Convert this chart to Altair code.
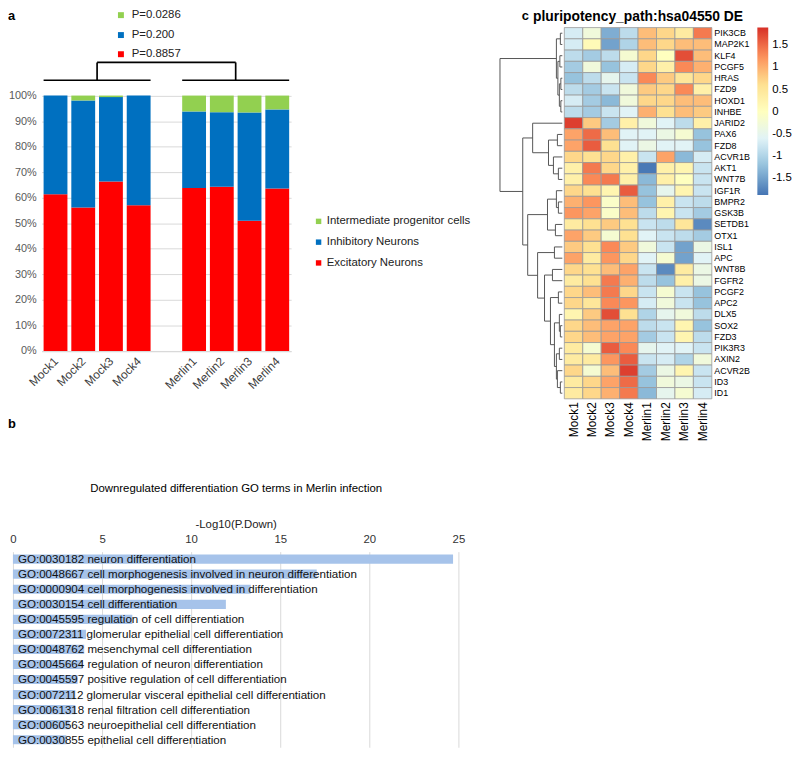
import altair as alt
import pandas as pd

FONT = "Liberation Sans"

# ---------------- panel a : cell type proportions ----------------
samples_a = ["Mock1", "Mock2", "Mock3", "Mock4", "Merlin1", "Merlin2", "Merlin3", "Merlin4"]
slots_a = [1, 2, 3, 4, 6, 7, 8, 9]
groups_a = [[1, 2, 3, 4], [6, 7, 8, 9]]
excitatory = [61.4, 56.2, 66.4, 57.1, 63.8, 64.3, 51.0, 63.6]
inhibitory = [38.6, 41.9, 33.0, 42.9, 30.0, 29.2, 42.4, 31.0]
progenitor = [0.0, 1.9, 0.6, 0.0, 6.2, 6.5, 6.6, 5.4]
cell_types = ["Intermediate progenitor cells", "Inhibitory Neurons", "Excitatory Neurons"]
cell_colors = ["#92D050", "#0070C0", "#FF0000"]
p_labels = ["P=0.0286", "P=0.200", "P=0.8857"]
p_colors = ["#92D050", "#0070C0", "#FF0000"]
p_level = [131.5, 123.7, 116.2]
bracket_levels = [106.0, 113.0]
pct_ticks = list(range(0, 101, 10))

# ---------------- panel b : GO terms ----------------
go_terms = [
    "GO:0030182 neuron differentiation",
    "GO:0048667 cell morphogenesis involved in neuron differentiation",
    "GO:0000904 cell morphogenesis involved in differentiation",
    "GO:0030154 cell differentiation",
    "GO:0045595 regulation of cell differentiation",
    "GO:0072311 glomerular epithelial cell differentiation",
    "GO:0048762 mesenchymal cell differentiation",
    "GO:0045664 regulation of neuron differentiation",
    "GO:0045597 positive regulation of cell differentiation",
    "GO:0072112 glomerular visceral epithelial cell differentiation",
    "GO:0061318 renal filtration cell differentiation",
    "GO:0060563 neuroepithelial cell differentiation",
    "GO:0030855 epithelial cell differentiation",
]
go_values = [24.7, 17.05, 13.35, 11.95, 6.7, 4.1, 4.0, 3.9, 3.63, 3.5, 3.5, 3.17, 3.0]
go_ticks = [0, 5, 10, 15, 20, 25]

# ---------------- panel c : heatmap ----------------
samples_c = ["Mock1", "Mock2", "Mock3", "Mock4", "Merlin1", "Merlin2", "Merlin3", "Merlin4"]
genes = ["PIK3CB", "MAP2K1", "KLF4", "PCGF5", "HRAS", "FZD9", "HOXD1", "INHBE", "JARID2",
         "PAX6", "FZD8", "ACVR1B", "AKT1", "WNT7B", "IGF1R", "BMPR2", "GSK3B", "SETDB1",
         "OTX1", "ISL1", "APC", "WNT8B", "FGFR2", "PCGF2", "APC2", "DLX5", "SOX2", "FZD3",
         "PIK3R3", "AXIN2", "ACVR2B", "ID3", "ID1"]
heat_values = [
    [-0.7, -0.3, -1.4, -0.9, 0.9, 0.7, 0.4, 1.4],
    [-0.7, 0.1, -1.5, -1.0, 0.9, 0.7, 0.9, 0.9],
    [-0.9, -1.1, -0.9, -0.2, 0.7, 0.0, 1.7, 0.9],
    [-1.1, -0.3, -1.2, -0.7, 0.7, 0.3, 1.3, 1.0],
    [-1.2, -0.9, -0.5, -0.8, 1.3, 0.8, 0.5, 0.7],
    [-0.9, -1.1, -0.8, -0.3, 0.8, 0.7, 1.3, 0.3],
    [-0.7, -1.1, -1.3, -0.3, 0.7, 0.7, 0.9, 0.9],
    [-0.9, -1.1, -0.8, -0.6, 1.0, 0.6, 0.9, 0.8],
    [1.8, 0.8, -1.1, 0.3, -0.3, -0.6, -0.9, 0.3],
    [1.1, 1.5, 0.9, -0.6, -0.6, -0.4, -0.2, -1.2],
    [1.1, 1.6, 0.6, -0.6, -0.4, -0.6, -0.6, -1.2],
    [0.7, 0.6, 0.7, 0.3, -0.8, 1.1, -1.3, -0.7],
    [0.3, 1.4, 0.7, 0.3, -1.85, 0.3, 0.2, -0.8],
    [0.3, 1.3, 1.4, 0.3, -1.3, 0.3, 0.0, -0.8],
    [0.7, 0.6, 0.2, 1.6, -1.2, -0.5, 0.2, -0.8],
    [1.0, 1.2, -0.1, 0.9, -1.2, 0.3, -0.8, -0.9],
    [1.2, 1.1, -0.1, 0.9, -0.9, 0.2, -0.8, -1.1],
    [0.4, 0.6, 0.8, 0.6, -0.8, -0.9, 0.5, -1.7],
    [1.1, 0.8, -0.2, 0.6, -0.6, -0.8, -0.9, -1.1],
    [0.8, 0.6, 1.3, 0.8, -0.3, -0.8, -1.5, -0.4],
    [1.1, 0.4, 1.2, 0.7, -0.6, -0.2, -1.5, -0.6],
    [0.7, 0.6, 0.9, 1.1, -0.8, -1.7, 0.4, -0.4],
    [0.4, 0.6, 1.4, 1.0, -0.9, -1.2, 0.3, -0.4],
    [0.7, 0.9, 1.4, 0.7, -0.8, -0.2, -0.8, -1.2],
    [0.7, 0.5, 1.3, 1.2, -0.7, -0.3, -0.8, -1.2],
    [0.2, 0.8, 1.7, 0.6, -1.0, -0.5, -0.3, -0.9],
    [0.7, 0.9, 1.1, 1.1, -0.9, -0.8, 0.2, -1.2],
    [0.7, 0.9, 1.1, 1.1, -1.1, -0.8, 0.2, -0.9],
    [0.4, -0.2, 1.6, 1.3, -0.5, -0.6, -0.6, -0.8],
    [0.4, 0.4, 1.2, 1.6, -0.8, -0.7, -1.0, -0.3],
    [0.7, -0.2, 0.9, 1.8, -1.1, -0.4, 0.2, -0.8],
    [0.4, 0.7, 1.1, 1.5, -1.2, -0.3, -0.4, -0.8],
    [0.4, 0.7, 1.0, 1.4, -1.3, -0.5, -0.2, -0.7],
]
heat_domain = [-1.88, -1.25, -0.62, 0.0, 0.63, 1.27, 1.9]
heat_palette = ["#4575B4", "#91BFDB", "#E0F3F8", "#FFFFBF", "#FEE090", "#FC8D59", "#D73027"]
legend_ticks = [1.5, 1, 0.5, 0, -0.5, -1, -1.5]
# row dendrogram: (merge height, left, right); leaves are row indices
dendro_tree = (63,
               (6, (2, 0, 1), (4.5, (2.5, 2, 3), (3, (1.5, 4, 5), (1.5, 6, 7)))),
               (40,
                (30, 8, (14, (5, 9, 10), (9, 11, (4, 12, 13)))),
                (35,
                 (15, (6, 14, (4, 15, 16)), (7, 17, 18)),
                 (25, (8, 19, 20),
                  (18, (10, 21, 22),
                   (12, (4, 23, 24),
                    (8, (3, 25, (2, 26, 27)),
                     (6, (3, 28, 29), (5, 30, (2, 31, 32))))))))))

# ======================= build panel a =======================
rows = []
for i, s in enumerate(samples_a):
    for k, (ct, vals) in enumerate([("Excitatory Neurons", excitatory),
                                    ("Inhibitory Neurons", inhibitory),
                                    ("Intermediate progenitor cells", progenitor)]):
        rows.append({"sample": s, "slot": slots_a[i], "cell": ct, "pct": vals[i], "order": k})
df_a = pd.DataFrame(rows)

HALF = 0.43
xa = alt.Scale(domain=[0.5, 9.5], range=[34, 286], nice=False, zero=False)
ya = alt.Scale(domain=[0, 100], range=[342.7, 84.7], nice=False, zero=False)

names = [""] * 10
for s, p in zip(samples_a, slots_a):
    names[p] = s
label_expr = "[" + ",".join("'%s'" % n for n in names) + "][datum.value]"

x_axis_a = alt.Axis(
    orient="bottom", offset=-399.3, values=slots_a, labelExpr=label_expr,
    labelAngle=-45, labelAlign="right", labelBaseline="middle",
    labelFontSize=12, labelPadding=8, labelColor="#404040",
    labelFlush=False, labelOverlap=False, ticks=False, tickSize=0, grid=False,
    domainColor="#d9d9d9", title=None)
y_axis_a = alt.Axis(
    orient="left", offset=-34, values=pct_ticks, labelExpr="datum.value + '%'",
    labelFontSize=11, labelPadding=5.5, labelColor="#595959", labelFlush=False,
    labelOverlap=False, ticks=False, tickSize=0, domain=False, grid=True,
    gridColor="#d9d9d9", title=None)

bars_a = alt.Chart(df_a).transform_stack(
    stack="pct", as_=["p0", "p1"], groupby=["slot"],
    sort=[alt.SortField("order", order="ascending")]
).transform_calculate(
    x0="datum.slot - %f" % HALF, x1="datum.slot + %f" % HALF
).mark_rect().encode(
    x=alt.X("x0:Q", scale=xa, axis=x_axis_a),
    x2="x1:Q",
    y=alt.Y("p0:Q", scale=ya, axis=y_axis_a),
    y2="p1:Q",
    color=alt.Color("cell:N", scale=alt.Scale(domain=cell_types, range=cell_colors),
                    legend=alt.Legend(orient="none", legendX=308, legendY=206, title=None,
                                      symbolType="square", symbolSize=30, symbolStrokeWidth=0,
                                      labelFontSize=11.5, labelOffset=2.5, rowPadding=8,
                                      padding=0, labelColor="#222222")),
)

seg = []
centers = []
for g in groups_a:
    lo, hi = min(g) - HALF, max(g) + HALF
    c = (lo + hi) / 2
    centers.append(c)
    seg.append({"x1": lo, "x2": hi, "y1": bracket_levels[0], "y2": bracket_levels[0]})
    seg.append({"x1": c, "x2": c, "y1": bracket_levels[0], "y2": bracket_levels[1]})
seg.append({"x1": centers[0], "x2": centers[1], "y1": bracket_levels[1], "y2": bracket_levels[1]})
brackets = alt.Chart(pd.DataFrame(seg)).mark_rule(color="black", strokeWidth=1.7).encode(
    x=alt.X("x1:Q", axis=x_axis_a), x2="x2:Q", y=alt.Y("y1:Q", axis=y_axis_a), y2="y2:Q")

df_p = pd.DataFrame({"label": p_labels, "col": p_colors, "py": p_level,
                     "px": [3.36] * 3, "tx": [3.75] * 3})
p_sq = alt.Chart(df_p).mark_square(size=36, opacity=1).encode(
    x=alt.X("px:Q", axis=x_axis_a), y=alt.Y("py:Q", axis=y_axis_a),
    fill=alt.Fill("col:N", scale=None, legend=None))
p_tx = alt.Chart(df_p).mark_text(align="left", baseline="middle", fontSize=11.5,
                                 font=FONT, color="#222222").encode(
    x=alt.X("tx:Q", axis=x_axis_a), y=alt.Y("py:Q", axis=y_axis_a), text="label:N")

panel_a = alt.layer(bars_a, brackets, p_sq, p_tx)

# ======================= build panel c =======================
hrows = []
for gi, g in enumerate(genes):
    for si, s in enumerate(samples_c):
        hrows.append({"gene": g, "sample": s, "v": heat_values[gi][si]})
df_h = pd.DataFrame(hrows)

heat = alt.Chart(df_h).mark_rect(stroke="#999999", strokeWidth=0.8).encode(
    x=alt.X("sample:O", sort=samples_c,
            scale=alt.Scale(range=[562, 711], paddingInner=0, paddingOuter=0),
            axis=alt.Axis(orient="bottom", offset=-351, labelAngle=-90, labelFontSize=12,
                          labelPadding=3, labelColor="black", ticks=False, tickSize=0,
                          domain=False, grid=False, title=None)),
    y=alt.Y("gene:O", sort=genes,
            scale=alt.Scale(range=[16, 391], paddingInner=0, paddingOuter=0),
            axis=alt.Axis(orient="right", offset=-81, labelFontSize=9, labelPadding=2,
                          labelColor="black", ticks=False, tickSize=0, domain=False,
                          grid=False, title=None)),
    color=alt.Color("v:Q", scale=alt.Scale(domain=heat_domain, range=heat_palette,
                                           interpolate="rgb"),
                    legend=alt.Legend(orient="none", legendX=757, legendY=16,
                                      direction="vertical", gradientLength=169,
                                      gradientThickness=11, values=legend_ticks,
                                      labelExpr="'' + datum.value", title=None,
                                      labelFontSize=11.5, labelOffset=4, padding=0,
                                      gradientStrokeWidth=0, labelColor="black")),
)

segs = []


def walk(node):
    if isinstance(node, int):
        return 0.0, float(node)
    h, left, right = node
    hl, yl = walk(left)
    hr, yr = walk(right)
    segs.append({"h1": hl, "h2": h, "r1": yl, "r2": yl})
    segs.append({"h1": hr, "h2": h, "r1": yr, "r2": yr})
    segs.append({"h1": h, "h2": h, "r1": yl, "r2": yr})
    return float(h), (yl + yr) / 2


walk(dendro_tree)
dendro = alt.Chart(pd.DataFrame(segs)).mark_rule(color="#555555", strokeWidth=1).encode(
    x=alt.X("h1:Q", scale=alt.Scale(domain=[0, 63], range=[560, 497], nice=False, zero=False),
            axis=None),
    x2="h2:Q",
    y=alt.Y("r1:Q", scale=alt.Scale(domain=[-0.5, len(genes) - 0.5], range=[16, 391],
                                    nice=False, zero=False), axis=None),
    y2="r2:Q",
)

# ======================= build panel b =======================
df_b = pd.DataFrame({"term": go_terms, "val": go_values})
xb = alt.Scale(domain=[0, 25], range=[5, 455], nice=False, zero=False)
yb = alt.Scale(range=[545.4, 743.0], paddingInner=0.39, paddingOuter=0.195)
x_axis_b = alt.Axis(
    orient="top", offset=-541.6, values=go_ticks, grid=True, gridColor="#d9d9d9",
    domain=False, ticks=False, tickSize=0, labelPadding=3, labelFontSize=11.5,
    labelColor="#333333", labelFlush=False, title="-Log10(P.Down)",
    titleFontSize=11.5, titleFontWeight="normal", titlePadding=5,
    titleColor="#222222")

bars_b = alt.Chart(df_b).mark_bar(color="#A6C3EA").encode(
    x=alt.X("val:Q", scale=xb, axis=x_axis_b),
    y=alt.Y("term:N", sort=go_terms, scale=yb, axis=None),
)
text_b = alt.Chart(df_b).transform_calculate(zero="0").mark_text(
    align="left", baseline="middle", dx=5, fontSize=11.7, font=FONT, color="#111111"
).encode(
    x=alt.X("zero:Q", axis=x_axis_b), y=alt.Y("term:N", sort=go_terms, axis=None),
    text="term:N")

panel_b = alt.layer(bars_b, text_b)


# ======================= annotations =======================
def note(txt, x, y, size, weight="normal", align="left"):
    return alt.Chart(pd.DataFrame({"t": [txt]})).mark_text(
        align=align, baseline="middle", fontSize=size, fontWeight=weight,
        font=FONT, color="black").encode(text="t:N", x=alt.value(x), y=alt.value(y))


notes = [
    note("a", 0, 4.5, 13, "bold"),
    note("b", 0, 416.5, 13, "bold"),
    note("c", 519, 4.5, 13, "bold"),
    note("pluripotency_path:hsa04550 DE", 636.5, 5.5, 14, "bold", "center"),
    note("Downregulated differentiation GO terms in Merlin infection", 230.5, 482, 11.5,
         "normal", "center"),
]

chart = alt.layer(panel_a, heat, dendro, panel_b, *notes).resolve_scale(
    x="independent", y="independent", color="independent"
).properties(
    width=792, height=742, padding=0, autosize=alt.AutoSizeParams(type="none")
).configure_view(strokeWidth=0).configure_axis(
    labelFont=FONT, titleFont=FONT
).configure_legend(labelFont=FONT)

chart.save("out.html", embed_options={"renderer": "svg", "actions": False})
